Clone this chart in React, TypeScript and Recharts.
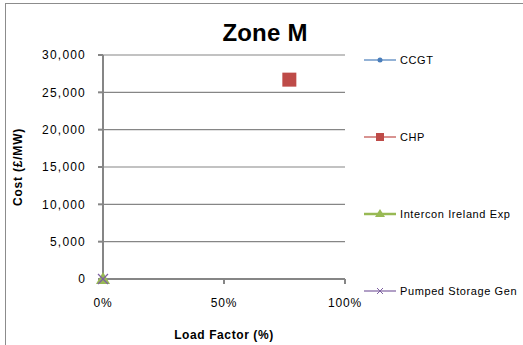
import React from 'react';
import { ScatterChart, Scatter, XAxis, YAxis, CartesianGrid } from 'recharts';

const seriesNames = ['CCGT', 'CHP', 'Intercon Ireland Exp', 'Pumped Storage Gen'];
const seriesColors = ['#4a7ebb', '#be4b48', '#98b954', '#7d60a0'];
const ccgtData = [{ x: 0.77, y: 26700 }];
const chpData = [{ x: 0.77, y: 26700 }];
const interconData = [{ x: 0, y: 0 }];
const pumpedData = [{ x: 0, y: 0 }];
const xTicks = [0, 0.5, 1];
const yTicks = [0, 5000, 10000, 15000, 20000, 25000, 30000];

const FONT = '"Liberation Sans", Arial, sans-serif';

const CircleShape = (p: any) => <circle cx={p.cx} cy={p.cy} r={3} fill={seriesColors[0]} />;
const SquareShape = (p: any) => <rect x={p.cx - 7} y={p.cy - 7} width={14} height={14} fill={seriesColors[1]} />;
const TriShape = (p: any) => (
  <path d={`M${p.cx},${p.cy - 7} L${p.cx + 7},${p.cy + 5} L${p.cx - 7},${p.cy + 5} Z`} fill={seriesColors[2]} />
);
const XShape = (p: any) => (
  <g stroke={seriesColors[3]} strokeWidth={1.2}>
    <line x1={p.cx - 5} y1={p.cy - 5} x2={p.cx + 5} y2={p.cy + 5} />
    <line x1={p.cx - 5} y1={p.cy + 5} x2={p.cx + 5} y2={p.cy - 5} />
  </g>
);

const legendIcon = (i: number, cx: number, cy: number) => {
  const c = seriesColors[i];
  if (i === 0) return <circle cx={cx} cy={cy} r={2.5} fill={c} />;
  if (i === 1) return <rect x={cx - 4} y={cy - 4} width={8} height={8} fill={c} />;
  if (i === 2) return <path d={`M${cx},${cy - 5} L${cx + 5},${cy + 3} L${cx - 5},${cy + 3} Z`} fill={c} />;
  return (
    <g stroke={c} strokeWidth={1}>
      <line x1={cx - 3} y1={cy - 3} x2={cx + 3} y2={cy + 3} />
      <line x1={cx - 3} y1={cy + 3} x2={cx + 3} y2={cy - 3} />
    </g>
  );
};

const LegendBox = () => (
  <svg width={170} height={260}>
    {seriesNames.map((n, i) => {
      const cy = 10 + i * 77;
      return (
        <g key={n}>
          <line x1={4} y1={cy} x2={36} y2={cy} stroke={seriesColors[i]} strokeWidth={i === 2 ? 2.5 : 1.2} />
          {legendIcon(i, 20, cy)}
          <text x={40} y={cy + 4} fontSize={11} fontFamily={FONT} letterSpacing={0.6} fill="#000">{n}</text>
        </g>
      );
    })}
  </svg>
);

export default function App() {
  return (
    <div style={{ position: 'absolute', left: 0, top: 0, width: 523, height: 345, background: '#fff', overflow: 'hidden' }}>
      <div style={{ position: 'absolute', left: 5, top: 3, width: 600, height: 400, border: '1px solid #8c8c8c' }} />
      <div style={{ position: 'absolute', left: 165, width: 200, top: 19, lineHeight: '28px', textAlign: 'center', fontFamily: FONT, fontWeight: 'bold', fontSize: 24, letterSpacing: 0.2 }}>Zone M</div>
      <div style={{ position: 'absolute', left: 0, top: 0 }}>
        <ScatterChart width={523} height={345} margin={{ top: 55, right: 178, bottom: 0, left: 0 }}>
          <CartesianGrid horizontal vertical={false} stroke="#868686" strokeWidth={1.2} />
          <XAxis
            type="number"
            dataKey="x"
            domain={[0, 1]}
            ticks={xTicks}
            tickFormatter={(v: number) => `${Math.round(v * 100)}%`}
            stroke="#868686"
            strokeWidth={2}
            tickSize={5}
            tickMargin={14}
            tick={{ fill: '#000', fontSize: 12, fontFamily: FONT, letterSpacing: 0.8 }}
            height={66}
            label={{ value: 'Load Factor (%)', position: 'insideBottom', offset: 6, fill: '#000', fontSize: 12, fontWeight: 'bold', fontFamily: FONT, letterSpacing: 0.6 }}
          />
          <YAxis
            type="number"
            dataKey="y"
            domain={[0, 30000]}
            ticks={yTicks}
            tickFormatter={(v: number) => v.toLocaleString('en-US')}
            stroke="#868686"
            strokeWidth={2}
            width={103}
            tickSize={5}
            tickMargin={12}
            tick={{ fill: '#000', fontSize: 12, fontFamily: FONT, letterSpacing: 1.2 }}
            label={{ value: 'Cost (£/MW)', angle: -90, position: 'insideLeft', offset: 18, fill: '#000', fontSize: 12, fontWeight: 'bold', fontFamily: FONT, letterSpacing: 0.8, style: { textAnchor: 'middle' } }}
          />
          <Scatter name={seriesNames[0]} data={ccgtData} shape={CircleShape} isAnimationActive={false} />
          <Scatter name={seriesNames[1]} data={chpData} shape={SquareShape} isAnimationActive={false} />
          <Scatter name={seriesNames[2]} data={interconData} shape={TriShape} isAnimationActive={false} />
          <Scatter name={seriesNames[3]} data={pumpedData} shape={XShape} isAnimationActive={false} />
        </ScatterChart>
      </div>
      <div style={{ position: 'absolute', left: 360, top: 50 }}>
        <LegendBox />
      </div>
    </div>
  );
}
